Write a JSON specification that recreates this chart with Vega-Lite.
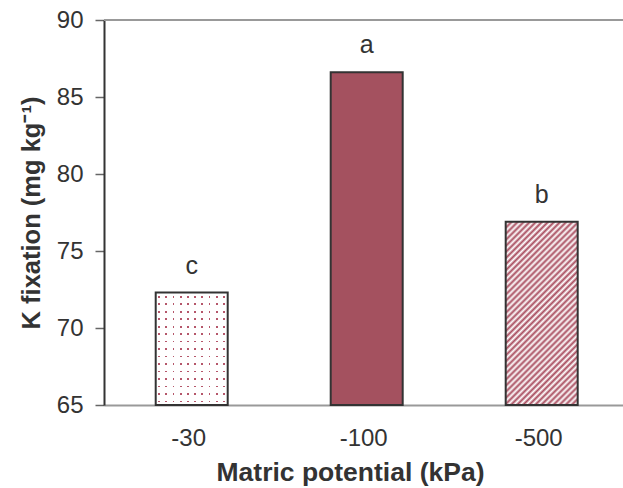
{
  "$schema": "https://vega.github.io/schema/vega-lite/v6.json",
  "width": 519,
  "height": 385,
  "autosize": {"type": "none"},
  "padding": {"left": 104, "top": 20, "right": 0, "bottom": 83},
  "background": "white",
  "config": {"view": {"stroke": null}, "font": "Liberation Sans"},
  "data": {"values": [
    {"potential": "-30", "kfix": 72.3, "sig": "c"},
    {"potential": "-100", "kfix": 86.6, "sig": "a"},
    {"potential": "-500", "kfix": 76.9, "sig": "b"}
  ]},
  "layer": [
    {
      "encoding": {
        "x": {"field": "potential", "type": "nominal",
          "scale": {"domain": ["-30", "-100", "-500"], "paddingInner": 0.5886, "paddingOuter": 0.2772, "align": 0.533},
          "axis": {"title": "Matric potential (kPa)", "labelAngle": 0, "ticks": false, "labelPadding": 21, "labelOffset": -3, "labelFontSize": 24, "labelColor": "#333", "titleFontSize": 26.5, "titleFontWeight": "bold", "titleColor": "#333", "titlePadding": 9, "titleX": 246, "titleAnchor": "middle", "domainColor": "#999", "domainWidth": 2}},
        "y": {"field": "kfix", "type": "quantitative",
          "scale": {"domain": [65, 90], "zero": false, "nice": false},
          "axis": {"title": "K fixation (mg kg⁻¹)", "values": [65, 70, 75, 80, 85, 90], "tickSize": 9, "tickColor": "#666", "tickWidth": 1.5, "labelPadding": 12, "labelFontSize": 24, "labelColor": "#333", "domainColor": "#333", "domainWidth": 2, "titleFontSize": 25.5, "titleFontWeight": "bold", "titleColor": "#333", "titlePadding": 12, "grid": false}}
      },
      "layer": [
        {
          "transform": [{"filter": "datum.potential === '-100'"}],
          "mark": {"type": "bar", "fill": "#a4515f", "stroke": "#333", "strokeWidth": 2},
          "encoding": {"y2": {"datum": 65}}
        },
        {
          "transform": [{"filter": "datum.potential === '-30'"}],
          "mark": {"type": "bar", "fill": {"gradient": "linear", "x1": 0, "y1": 0, "x2": 0, "y2": 1, "stops": [
            {"offset": 0, "color": "#ffffff"},
            {"offset": 0.027, "color": "#ffffff"}, {"offset": 0.027, "color": "#b5566a"}, {"offset": 0.044, "color": "#b5566a"}, {"offset": 0.044, "color": "#ffffff"},
            {"offset": 0.0937, "color": "#ffffff"}, {"offset": 0.0937, "color": "#b5566a"}, {"offset": 0.1107, "color": "#b5566a"}, {"offset": 0.1107, "color": "#ffffff"},
            {"offset": 0.1603, "color": "#ffffff"}, {"offset": 0.1603, "color": "#b5566a"}, {"offset": 0.1773, "color": "#b5566a"}, {"offset": 0.1773, "color": "#ffffff"},
            {"offset": 0.227, "color": "#ffffff"}, {"offset": 0.227, "color": "#b5566a"}, {"offset": 0.244, "color": "#b5566a"}, {"offset": 0.244, "color": "#ffffff"},
            {"offset": 0.2937, "color": "#ffffff"}, {"offset": 0.2937, "color": "#b5566a"}, {"offset": 0.3107, "color": "#b5566a"}, {"offset": 0.3107, "color": "#ffffff"},
            {"offset": 0.3603, "color": "#ffffff"}, {"offset": 0.3603, "color": "#b5566a"}, {"offset": 0.3773, "color": "#b5566a"}, {"offset": 0.3773, "color": "#ffffff"},
            {"offset": 0.427, "color": "#ffffff"}, {"offset": 0.427, "color": "#b5566a"}, {"offset": 0.444, "color": "#b5566a"}, {"offset": 0.444, "color": "#ffffff"},
            {"offset": 0.4937, "color": "#ffffff"}, {"offset": 0.4937, "color": "#b5566a"}, {"offset": 0.5107, "color": "#b5566a"}, {"offset": 0.5107, "color": "#ffffff"},
            {"offset": 0.5603, "color": "#ffffff"}, {"offset": 0.5603, "color": "#b5566a"}, {"offset": 0.5773, "color": "#b5566a"}, {"offset": 0.5773, "color": "#ffffff"},
            {"offset": 0.627, "color": "#ffffff"}, {"offset": 0.627, "color": "#b5566a"}, {"offset": 0.644, "color": "#b5566a"}, {"offset": 0.644, "color": "#ffffff"},
            {"offset": 0.6937, "color": "#ffffff"}, {"offset": 0.6937, "color": "#b5566a"}, {"offset": 0.7107, "color": "#b5566a"}, {"offset": 0.7107, "color": "#ffffff"},
            {"offset": 0.7603, "color": "#ffffff"}, {"offset": 0.7603, "color": "#b5566a"}, {"offset": 0.7773, "color": "#b5566a"}, {"offset": 0.7773, "color": "#ffffff"},
            {"offset": 0.827, "color": "#ffffff"}, {"offset": 0.827, "color": "#b5566a"}, {"offset": 0.844, "color": "#b5566a"}, {"offset": 0.844, "color": "#ffffff"},
            {"offset": 0.8937, "color": "#ffffff"}, {"offset": 0.8937, "color": "#b5566a"}, {"offset": 0.9107, "color": "#b5566a"}, {"offset": 0.9107, "color": "#ffffff"},
            {"offset": 0.9603, "color": "#ffffff"}, {"offset": 0.9603, "color": "#b5566a"}, {"offset": 0.9773, "color": "#b5566a"}, {"offset": 0.9773, "color": "#ffffff"},
            {"offset": 1, "color": "#ffffff"}
          ]}},
          "encoding": {"y2": {"datum": 65}}
        },
        {
          "transform": [{"filter": "datum.potential === '-30'"}],
          "mark": {"type": "bar", "stroke": "#333", "strokeWidth": 2, "fill": {"gradient": "linear", "x1": 0, "y1": 0, "x2": 1, "y2": 0, "stops": [
            {"offset": 0, "color": "rgba(255,255,255,1)"},
            {"offset": 0.035, "color": "rgba(255,255,255,1)"}, {"offset": 0.035, "color": "rgba(255,255,255,0)"}, {"offset": 0.06, "color": "rgba(255,255,255,0)"}, {"offset": 0.06, "color": "rgba(255,255,255,1)"},
            {"offset": 0.135, "color": "rgba(255,255,255,1)"}, {"offset": 0.135, "color": "rgba(255,255,255,0)"}, {"offset": 0.16, "color": "rgba(255,255,255,0)"}, {"offset": 0.16, "color": "rgba(255,255,255,1)"},
            {"offset": 0.235, "color": "rgba(255,255,255,1)"}, {"offset": 0.235, "color": "rgba(255,255,255,0)"}, {"offset": 0.26, "color": "rgba(255,255,255,0)"}, {"offset": 0.26, "color": "rgba(255,255,255,1)"},
            {"offset": 0.335, "color": "rgba(255,255,255,1)"}, {"offset": 0.335, "color": "rgba(255,255,255,0)"}, {"offset": 0.36, "color": "rgba(255,255,255,0)"}, {"offset": 0.36, "color": "rgba(255,255,255,1)"},
            {"offset": 0.435, "color": "rgba(255,255,255,1)"}, {"offset": 0.435, "color": "rgba(255,255,255,0)"}, {"offset": 0.46, "color": "rgba(255,255,255,0)"}, {"offset": 0.46, "color": "rgba(255,255,255,1)"},
            {"offset": 0.535, "color": "rgba(255,255,255,1)"}, {"offset": 0.535, "color": "rgba(255,255,255,0)"}, {"offset": 0.56, "color": "rgba(255,255,255,0)"}, {"offset": 0.56, "color": "rgba(255,255,255,1)"},
            {"offset": 0.635, "color": "rgba(255,255,255,1)"}, {"offset": 0.635, "color": "rgba(255,255,255,0)"}, {"offset": 0.66, "color": "rgba(255,255,255,0)"}, {"offset": 0.66, "color": "rgba(255,255,255,1)"},
            {"offset": 0.735, "color": "rgba(255,255,255,1)"}, {"offset": 0.735, "color": "rgba(255,255,255,0)"}, {"offset": 0.76, "color": "rgba(255,255,255,0)"}, {"offset": 0.76, "color": "rgba(255,255,255,1)"},
            {"offset": 0.835, "color": "rgba(255,255,255,1)"}, {"offset": 0.835, "color": "rgba(255,255,255,0)"}, {"offset": 0.86, "color": "rgba(255,255,255,0)"}, {"offset": 0.86, "color": "rgba(255,255,255,1)"},
            {"offset": 0.935, "color": "rgba(255,255,255,1)"}, {"offset": 0.935, "color": "rgba(255,255,255,0)"}, {"offset": 0.96, "color": "rgba(255,255,255,0)"}, {"offset": 0.96, "color": "rgba(255,255,255,1)"},
            {"offset": 1, "color": "rgba(255,255,255,1)"}
          ]}},
          "encoding": {"y2": {"datum": 65}}
        },
        {
          "transform": [{"filter": "datum.potential === '-500'"}],
          "mark": {"type": "bar", "stroke": "#333", "strokeWidth": 2, "fill": {"gradient": "linear", "x1": 0, "y1": 0, "x2": 0.474, "y2": 1.2066, "stops": [
            {"offset": 0, "color": "#a94d5f"}, {"offset": 0.0119, "color": "#ffffff"}, {"offset": 0.0238, "color": "#a94d5f"}, {"offset": 0.0357, "color": "#ffffff"},
            {"offset": 0.0476, "color": "#a94d5f"}, {"offset": 0.0595, "color": "#ffffff"}, {"offset": 0.0714, "color": "#a94d5f"}, {"offset": 0.0833, "color": "#ffffff"},
            {"offset": 0.0952, "color": "#a94d5f"}, {"offset": 0.1071, "color": "#ffffff"}, {"offset": 0.119, "color": "#a94d5f"}, {"offset": 0.131, "color": "#ffffff"},
            {"offset": 0.1429, "color": "#a94d5f"}, {"offset": 0.1548, "color": "#ffffff"}, {"offset": 0.1667, "color": "#a94d5f"}, {"offset": 0.1786, "color": "#ffffff"},
            {"offset": 0.1905, "color": "#a94d5f"}, {"offset": 0.2024, "color": "#ffffff"}, {"offset": 0.2143, "color": "#a94d5f"}, {"offset": 0.2262, "color": "#ffffff"},
            {"offset": 0.2381, "color": "#a94d5f"}, {"offset": 0.25, "color": "#ffffff"}, {"offset": 0.2619, "color": "#a94d5f"}, {"offset": 0.2738, "color": "#ffffff"},
            {"offset": 0.2857, "color": "#a94d5f"}, {"offset": 0.2976, "color": "#ffffff"}, {"offset": 0.3095, "color": "#a94d5f"}, {"offset": 0.3214, "color": "#ffffff"},
            {"offset": 0.3333, "color": "#a94d5f"}, {"offset": 0.3452, "color": "#ffffff"}, {"offset": 0.3571, "color": "#a94d5f"}, {"offset": 0.369, "color": "#ffffff"},
            {"offset": 0.381, "color": "#a94d5f"}, {"offset": 0.3929, "color": "#ffffff"}, {"offset": 0.4048, "color": "#a94d5f"}, {"offset": 0.4167, "color": "#ffffff"},
            {"offset": 0.4286, "color": "#a94d5f"}, {"offset": 0.4405, "color": "#ffffff"}, {"offset": 0.4524, "color": "#a94d5f"}, {"offset": 0.4643, "color": "#ffffff"},
            {"offset": 0.4762, "color": "#a94d5f"}, {"offset": 0.4881, "color": "#ffffff"}, {"offset": 0.5, "color": "#a94d5f"}, {"offset": 0.5119, "color": "#ffffff"},
            {"offset": 0.5238, "color": "#a94d5f"}, {"offset": 0.5357, "color": "#ffffff"}, {"offset": 0.5476, "color": "#a94d5f"}, {"offset": 0.5595, "color": "#ffffff"},
            {"offset": 0.5714, "color": "#a94d5f"}, {"offset": 0.5833, "color": "#ffffff"}, {"offset": 0.5952, "color": "#a94d5f"}, {"offset": 0.6071, "color": "#ffffff"},
            {"offset": 0.619, "color": "#a94d5f"}, {"offset": 0.631, "color": "#ffffff"}, {"offset": 0.6429, "color": "#a94d5f"}, {"offset": 0.6548, "color": "#ffffff"},
            {"offset": 0.6667, "color": "#a94d5f"}, {"offset": 0.6786, "color": "#ffffff"}, {"offset": 0.6905, "color": "#a94d5f"}, {"offset": 0.7024, "color": "#ffffff"},
            {"offset": 0.7143, "color": "#a94d5f"}, {"offset": 0.7262, "color": "#ffffff"}, {"offset": 0.7381, "color": "#a94d5f"}, {"offset": 0.75, "color": "#ffffff"},
            {"offset": 0.7619, "color": "#a94d5f"}, {"offset": 0.7738, "color": "#ffffff"}, {"offset": 0.7857, "color": "#a94d5f"}, {"offset": 0.7976, "color": "#ffffff"},
            {"offset": 0.8095, "color": "#a94d5f"}, {"offset": 0.8214, "color": "#ffffff"}, {"offset": 0.8333, "color": "#a94d5f"}, {"offset": 0.8452, "color": "#ffffff"},
            {"offset": 0.8571, "color": "#a94d5f"}, {"offset": 0.869, "color": "#ffffff"}, {"offset": 0.881, "color": "#a94d5f"}, {"offset": 0.8929, "color": "#ffffff"},
            {"offset": 0.9048, "color": "#a94d5f"}, {"offset": 0.9167, "color": "#ffffff"}, {"offset": 0.9286, "color": "#a94d5f"}, {"offset": 0.9405, "color": "#ffffff"},
            {"offset": 0.9524, "color": "#a94d5f"}, {"offset": 0.9643, "color": "#ffffff"}, {"offset": 0.9762, "color": "#a94d5f"}, {"offset": 0.9881, "color": "#ffffff"},
            {"offset": 1, "color": "#a94d5f"}
          ]}},
          "encoding": {"y2": {"datum": 65}}
        },
        {
          "mark": {"type": "text", "baseline": "alphabetic", "dy": -19, "fontSize": 25, "color": "#333"},
          "encoding": {"text": {"field": "sig"}}
        }
      ]
    },
    {
      "mark": {"type": "rule", "color": "#999", "strokeWidth": 2},
      "encoding": {"y": {"datum": 90}}
    }
  ]
}
